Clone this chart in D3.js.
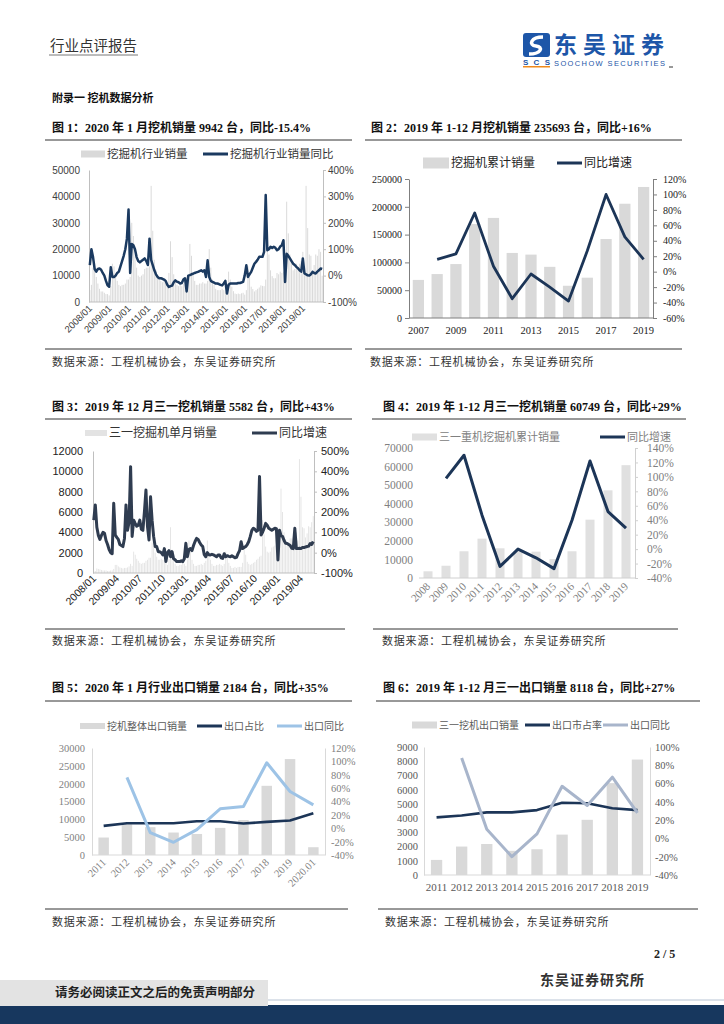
<!DOCTYPE html>
<html>
<head>
<meta charset="utf-8">
<script src="https://cdn.jsdelivr.net/npm/d3@7"></script>
<style>
body{margin:0;background:#fff;}
svg{display:block;}
</style>
</head>
<body>
<svg id="page" width="724" height="1024"></svg>
<script>
// ---- data ----
// 图1 monthly industry sales 2008/01 - 2020/01, yoy %
var sales1 = [
 4500, 6500, 13000, 12000, 9500, 7000, 5000, 4000, 4000, 3500, 3000, 3000,
 2500, 6000, 14500, 13500, 10500, 8000, 6500, 6000, 6500, 6500, 7000, 8500,
 8500, 9500, 30000, 25000, 18000, 13000, 10000, 9500, 10000, 10500, 12500, 13000,
 13000, 13500, 44000, 27000, 16000, 12000, 9000, 8500, 8000, 7500, 8000, 8000,
 6500, 11000, 23000, 17000, 10500, 8500, 6500, 6000, 6500, 6000, 7000, 6500,
 4000, 9000, 22000, 17500, 10500, 8000, 6500, 6500, 7000, 7000, 7500, 7000,
 7000, 8000, 20000, 13000, 8500, 6500, 5000, 4500, 4500, 4500, 5000, 4500,
 4000, 4500, 11500, 8500, 5800, 4100, 3200, 3000, 3200, 3000, 3300, 3500,
 2800, 4500, 13500, 9500, 5800, 4900, 4000, 4500, 5000, 5500, 6300, 6100,
 6000, 8500, 25500, 18000, 12000, 9800, 9000, 9000, 11000, 10500, 11500, 11000,
 11500, 10000, 38000, 26000, 18000, 15500, 12000, 12500, 14500, 13000, 14500, 15500,
 19000, 12000, 44000, 28000, 18000, 17500, 12000, 14000, 18000, 17500, 20000, 19000,
 9942];
var yoy1 = [
 40, 100, 70, 25, 15, 25, 27, 22, 10, 0, -20, -37,
 -42, 32, -5, -5, 0, 10, 15, 35, 55, 75, 100, 140,
 250, 10, 120, 115, 100, 70, 55, 50, 55, 60, 65, 55,
 40, 140, 60, 40, 20, 5, -5, -10, -10, -12, -15, -20,
 -35, -43, -40, -38, -25, -18, -23, -25, -30, -28, -15, -10,
 -60, 0, 2, 5, 7, 10, 12, 14, 17, 20, 15, 20,
 -5, 58, -5, -20, -24, -27, -30, -30, -32, -35, -37, -30,
 -20, -68, -35, -30, -30, -30, -30, -30, -28, -28, -26, -24,
 1, 39, -5, 5, 14, 30, 45, 52, 60, 71, 71, 71,
 90, 305, 96, 100, 109, 105, 109, 105, 96, 100, 110, 115,
 134, -24, 83, 75, 65, 55, 45, 40, 33, 28, 20, 15,
 65, 8, 5, 1, 0, 5, 14, 10, 8, 15, 20, 27,
 25];
var ticks1 = ["2008/01","2009/01","2010/01","2011/01","2012/01","2013/01","2014/01",
              "2015/01","2016/01","2017/01","2018/01","2019/01"];

// 图2 yearly cumulative sales
var years2 = ["2007","2008","2009","2010","2011","2012","2013","2014","2015","2016","2017","2018","2019"];
var sales2 = [68500, 79000, 97000, 169000, 180000, 117000, 114000, 92000, 58000, 72500, 142000, 205500, 235693];
var yoy2 = [null, 16, 23, 76, 7, -35, -3, -20, -38, 27, 100, 45, 16];
var ticks2 = ["2007","2009","2011","2013","2015","2017","2019"];

// 图3 Sany monthly sales 2008/01 - 2019/12, yoy %
var sales3 = [
 150, 200, 450, 400, 350, 300, 250, 250, 250, 200, 200, 250,
 250, 400, 800, 800, 650, 550, 500, 450, 500, 500, 550, 650,
 900, 700, 2100, 1800, 1400, 1200, 1000, 900, 1000, 1000, 1200, 1300,
 1500, 1500, 3000, 2600, 2000, 1600, 1300, 1300, 1400, 1300, 1400, 1300,
 800, 1400, 4500, 2300, 1400, 900, 700, 700, 800, 800, 900, 900,
 700, 1300, 3200, 2400, 1300, 900, 700, 700, 800, 800, 900, 800,
 1000, 1200, 3200, 2000, 1300, 900, 700, 700, 800, 800, 900, 800,
 700, 900, 2100, 1500, 1000, 700, 500, 500, 600, 500, 600, 600,
 600, 1000, 2400, 1800, 1100, 900, 800, 900, 1000, 1100, 1300, 1400,
 1600, 1700, 5200, 3800, 2600, 2100, 2000, 2100, 2500, 2600, 2700, 2500,
 2800, 3000, 8300, 6000, 4000, 3300, 2700, 2900, 3400, 3400, 3600, 3700,
 4000, 3200, 11200, 7500, 4500, 4400, 3500, 3900, 4600, 4500, 5000, 5600];
var yoy3 = [
 160, 235, 125, 85, 65, 85, 100, 95, 60, 40, 15, 0,
 -5, 243, 87, 75, 65, 40, 35, 30, 70, 235, 110, 150,
 423, 80, 160, 144, 130, 135, 160, 115, 110, 200, 308, 128,
 62, 275, 160, 80, 30, 30, 5, 5, 0, -11, 20, -44,
 0, 10, -20, 5, -30, -35, -44, -44, -44, -40, -44, -30,
 46, -20, 15, 20, 10, 35, 55, 70, 65, 50, 38, 30,
 -10, -20, 0, -10, -11, -8, -11, -15, -20, -12, -11, -25,
 -28, -5, -20, -15, -18, -20, -15, -20, -25, -23, -5, 10,
 54, 20, 25, 30, 40, 55, 80, 110, 120, 115, 105, 110,
 374, 87, 100, 120, 144, 135, 120, 115, 110, 115, 120, 118,
 -36, 110, 85, 80, 60, 46, 45, 40, 35, 22, 20, 120,
 20, 20, 22, 20, 25, 25, 28, 30, 32, 45, 40, 55];
var ticks3 = ["2008/01","2009/04","2010/07","2011/10","2013/01","2014/04","2015/07",
              "2016/10","2018/01","2019/04"];

// 图4 Sany yearly cumulative sales
var years4 = ["2008","2009","2010","2011","2012","2013","2014","2015","2016","2017","2018","2019"];
var sales4 = [3600, 6600, 14400, 21200, 16000, 14400, 14200, 10200, 14400, 31400, 47200, 60749];
var yoy4 = [null, 98, 130, 47, -24, 0, -12, -27, 40, 122, 52, 29];

// 图5 industry exports
var years5 = ["2011","2012","2013","2014","2015","2016","2017","2018","2019","2020.01"];
var export5 = [4900, 8600, 7800, 6300, 5900, 7600, 9800, 19400, 26900, 2184];
var share5 = [3.5, 7.5, 7.5, 7.5, 10.5, 10.5, 7, 9.5, 11.5, 22.5];
var expYoy5 = [null, 76, -6.5, -21, -2, 29, 32.5, 98, 55, 35];

// 图6 Sany exports
var years6 = ["2011","2012","2013","2014","2015","2016","2017","2018","2019"];
var export6 = [1060, 2000, 2180, 1700, 1810, 2840, 3880, 6460, 8118];
var share6 = [23, 25, 28.5, 28.5, 31, 39, 38.5, 33, 31];
var expYoy6 = [null, 88, 10, -20, 5, 57, 36, 67, 28];

// ---- helpers ----
var SERIF = "'Liberation Serif','Noto Sans CJK SC',serif";
var SANS = "'Liberation Sans','Noto Sans CJK SC',sans-serif";
var CJK = "'Noto Sans CJK SC',sans-serif";
var NAVY = "#1c3557";

var svg = d3.select("#page");

function monthCats(y, m, n){
	var out = [];
	for(var i = 0; i < n; i++){
		out.push(y + "/" + (m < 10 ? "0" + m : m));
		m++;
		if(m > 12){ m = 1; y++; }
	}
	return out;
}

function combo(o){
	var g = svg.append("g");
	var x = d3.scaleBand().domain(o.cats).range([o.left, o.right]);
	var yL = d3.scaleLinear().domain(o.yL).range([o.bottom, o.top]);
	var yR = d3.scaleLinear().domain(o.yR).range([o.bottom, o.top]);
	var bw = x.bandwidth() * o.barW;

	// bars
	g.append("g").selectAll("rect").data(o.bars).join("rect")
		.attr("x", function(d, i){ return x(o.cats[i]) + (x.bandwidth() - bw) / 2; })
		.attr("y", function(d){ return yL(d); })
		.attr("width", bw)
		.attr("height", function(d){ return o.bottom - yL(d); })
		.attr("fill", o.barColor);

	// left axis
	var aL = g.append("g").attr("transform", "translate(" + o.left + ",0)")
		.call(d3.axisLeft(yL).tickValues(o.lTicks).tickSize(o.lTick).tickSizeOuter(0)
			.tickPadding(o.lPad).tickFormat(d3.format("d")));
	// right axis
	var aR = g.append("g").attr("transform", "translate(" + o.right + ",0)")
		.call(d3.axisRight(yR).tickValues(o.rTicks).tickSize(o.rTick).tickSizeOuter(0)
			.tickPadding(o.rPad).tickFormat(function(d){ return d + "%"; }));
	[aL, aR].forEach(function(a, k){
		a.select(".domain").attr("stroke", (k == 0 && o.noLeftLine) ? "none" : o.axisColor);
		a.selectAll(".tick line").attr("stroke", o.axisColor);
		a.selectAll(".tick text").attr("fill", o.textColor)
			.style("font-family", o.tickFont).style("font-size", o.tickSize + "px");
	});

	// bottom axis line
	g.append("line").attr("x1", o.left).attr("x2", o.right)
		.attr("y1", o.bottom).attr("y2", o.bottom).attr("stroke", o.axisColor);

	// x labels
	g.append("g").selectAll("text").data(o.xTicks).join("text")
		.attr("transform", function(d){
			var cx = x(d) + x.bandwidth() / 2;
			return o.rot ? "translate(" + (cx + 3) + "," + (o.bottom + o.xOff) + ") rotate(-45)"
			             : "translate(" + cx + "," + (o.bottom + o.xOff) + ")";
		})
		.attr("text-anchor", o.rot ? "end" : "middle")
		.attr("fill", o.textColor)
		.style("font-family", o.tickFont).style("font-size", o.xSize + "px")
		.text(function(d){ return d; });

	// lines
	o.lines.forEach(function(s){
		var line = d3.line()
			.defined(function(d){ return d !== null; })
			.x(function(d, i){ return x(o.cats[i]) + x.bandwidth() / 2; })
			.y(function(d){ return yR(d); });
		g.append("path").datum(s.values)
			.attr("fill", "none").attr("stroke", s.color).attr("stroke-width", s.width)
			.attr("stroke-linejoin", "round").attr("d", line);
	});

	// legend
	o.legend.forEach(function(l){
		if(l.kind == "rect"){
			g.append("rect").attr("x", l.x).attr("y", o.legY - l.h / 2)
				.attr("width", l.w).attr("height", l.h).attr("fill", l.color);
		}else{
			g.append("line").attr("x1", l.x).attr("x2", l.x + l.w)
				.attr("y1", o.legY).attr("y2", o.legY)
				.attr("stroke", l.color).attr("stroke-width", 3);
		}
		g.append("text").attr("x", l.x + l.w + 2).attr("y", o.legY)
			.attr("dy", "0.36em").attr("fill", o.legColor)
			.style("font-family", CJK).style("font-size", o.legSize + "px")
			.text(l.label);
	});
}

function pageText(x, y, str, size, weight, color, font){
	return svg.append("text").attr("x", x).attr("y", y)
		.attr("fill", color || "#222").attr("font-weight", weight || "normal")
		.style("font-family", font || CJK).style("font-size", size + "px")
		.text(str);
}
function rule(x1, x2, y, color, w){
	svg.append("line").attr("x1", x1).attr("x2", x2).attr("y1", y).attr("y2", y)
		.attr("stroke", color || "#333").attr("stroke-width", w || 1);
}

// ---- page header ----
pageText(50, 51, "行业点评报告", 14.5, "normal", "#333");
rule(49, 138, 55, "#555", 0.8);

// logo
svg.append("rect").attr("x", 523).attr("y", 33).attr("width", 27).attr("height", 24).attr("rx", 3).attr("fill", "#1d56a8");
svg.append("path").attr("d", "M543,37 C531,37 528,45 536,46 C544,47 541,54 529,54")
	.attr("fill", "none").attr("stroke", "#fff").attr("stroke-width", 3.5);
pageText(523, 65, "SCS", 8, "bold", "#1d56a8", SANS).attr("textLength", 27);
svg.append("rect").attr("x", 523).attr("y", 66).attr("width", 27).attr("height", 1.5).attr("fill", "#f08a1c");
pageText(554, 53, "东吴证券", 23, "bold", "#1d56a8").attr("textLength", 110);
pageText(554, 65.5, "SOOCHOW SECURITIES", 7.5, "normal", "#1d56a8", SANS).attr("textLength", 111);
rule(669, 673, 67, "#333", 1);

pageText(52, 102, "附录一 挖机数据分析", 11, "bold", "#111");

// ---- figure titles & sources ----
var TITLE_FONT = SERIF;
pageText(52, 132, "图 1：2020 年 1 月挖机销量 9942 台，同比-15.4%", 12, "bold", "#111", TITLE_FONT);
pageText(371, 132, "图 2：2019 年 1-12 月挖机销量 235693 台，同比+16%", 12, "bold", "#111", TITLE_FONT);
pageText(52, 411, "图 3：2019 年 12 月三一挖机销量 5582 台，同比+43%", 12, "bold", "#111", TITLE_FONT);
pageText(383, 411, "图 4：2019 年 1-12 月三一挖机销量 60749 台，同比+29%", 12, "bold", "#111", TITLE_FONT);
pageText(52, 692, "图 5：2020 年 1 月行业出口销量 2184 台，同比+35%", 12, "bold", "#111", TITLE_FONT);
pageText(383, 692, "图 6：2019 年 1-12 月三一出口销量 8118 台，同比+27%", 12, "bold", "#111", TITLE_FONT);
rule(45, 352, 140); rule(365, 682, 140);
rule(45, 352, 419); rule(372, 686, 419);
rule(45, 352, 701); rule(376, 700, 701);

var SRC = "数据来源：工程机械协会，东吴证券研究所";
rule(45, 352, 349); rule(365, 682, 349);
rule(45, 345, 629); rule(373, 678, 629);
rule(45, 348, 909); rule(378, 698, 909);
[[52, 366], [370, 366], [52, 645], [382, 645], [52, 926], [385, 926]].forEach(function(p){
	pageText(p[0], p[1], SRC, 11, "normal", "#333").style("letter-spacing", "0.8px");
});

// ---- charts ----
combo({
	cats: monthCats(2008, 1, sales1.length), bars: sales1,
	left: 89, right: 323, top: 170, bottom: 302,
	yL: [0, 50000], lTicks: d3.range(0, 50001, 10000), lTick: 0, lPad: 9,
	yR: [-100, 400], rTicks: d3.range(-100, 401, 100), rTick: 3, rPad: 2,
	barW: 0.6, barColor: "#d9d9d9", axisColor: "#bfbfbf", textColor: "#404040",
	tickFont: SANS, tickSize: 10, xTicks: ticks1, rot: true, xOff: 7, xSize: 9.5,
	lines: [{values: yoy1, color: "#1b3a60", width: 2.5}],
	legY: 154, legSize: 11.5, legColor: "#333",
	legend: [{kind: "rect", x: 81, w: 24, h: 7, color: "#d9d9d9", label: "挖掘机行业销量"},
	         {kind: "line", x: 203, w: 25, color: "#1b3a60", label: "挖掘机行业销量同比"}]
});

combo({
	cats: years2, bars: sales2,
	left: 409, right: 653, top: 179, bottom: 318,
	yL: [0, 250000], lTicks: d3.range(0, 250001, 50000), lTick: 4, lPad: 3,
	yR: [-60, 120], rTicks: d3.range(-60, 121, 20), rTick: 4, rPad: 6,
	barW: 0.6, barColor: "#d9d9d9", axisColor: "#7f7f7f", textColor: "#222",
	tickFont: SERIF, tickSize: 10, xTicks: ticks2, rot: false, xOff: 16, xSize: 10.5,
	lines: [{values: yoy2, color: NAVY, width: 2.8}],
	legY: 163, legSize: 12, legColor: "#222",
	legend: [{kind: "rect", x: 423, w: 26, h: 11, color: "#d9d9d9", label: "挖掘机累计销量"},
	         {kind: "line", x: 557, w: 25, color: NAVY, label: "同比增速"}]
});

combo({
	cats: monthCats(2008, 1, sales3.length), bars: sales3,
	left: 93, right: 314, top: 451, bottom: 573,
	yL: [0, 12000], lTicks: d3.range(0, 12001, 2000), lTick: 0, lPad: 10,
	yR: [-100, 500], rTicks: d3.range(-100, 501, 100), rTick: 3, rPad: 4,
	barW: 0.6, barColor: "#e3e3e3", axisColor: "#bfbfbf", textColor: "#222",
	tickFont: SANS, tickSize: 11, xTicks: ticks3, rot: true, xOff: 6, xSize: 10.5,
	lines: [{values: yoy3, color: "#2f3c50", width: 3}],
	legY: 433, legSize: 12, legColor: "#333",
	legend: [{kind: "rect", x: 85, w: 22, h: 6, color: "#e3e3e3", label: "三一挖掘机单月销量"},
	         {kind: "line", x: 252, w: 25, color: "#2f3c50", label: "同比增速"}]
});

combo({
	cats: years4, bars: sales4,
	left: 419, right: 635, top: 448, bottom: 578,
	yL: [0, 70000], lTicks: d3.range(0, 70001, 10000), lTick: 0, lPad: 6, noLeftLine: true,
	yR: [-40, 140], rTicks: d3.range(-40, 141, 20), rTick: 3, rPad: 9,
	barW: 0.5, barColor: "#e0e0e0", axisColor: "#d0d0d0", textColor: "#808080",
	tickFont: SERIF, tickSize: 11.5, xTicks: years4, rot: true, xOff: 9, xSize: 11,
	lines: [{values: yoy4, color: NAVY, width: 3}],
	legY: 437, legSize: 11, legColor: "#808080",
	legend: [{kind: "rect", x: 412, w: 25, h: 7, color: "#e0e0e0", label: "三一重机挖掘机累计销量"},
	         {kind: "line", x: 600, w: 25, color: NAVY, label: "同比增速"}]
});

combo({
	cats: years5, bars: export5,
	left: 92, right: 325, top: 748, bottom: 855,
	yL: [0, 30000], lTicks: d3.range(0, 30001, 5000), lTick: 0, lPad: 7,
	yR: [-40, 120], rTicks: d3.range(-40, 121, 20), rTick: 0, rPad: 6,
	barW: 0.45, barColor: "#d9d9d9", axisColor: "#d9d9d9", textColor: "#7f7f7f",
	tickFont: SERIF, tickSize: 10.5, xTicks: years5, rot: true, xOff: 8, xSize: 10.5,
	lines: [{values: share5, color: NAVY, width: 2.6},
	        {values: expYoy5, color: "#9dc3e6", width: 3}],
	legY: 726, legSize: 10, legColor: "#595959",
	legend: [{kind: "rect", x: 80, w: 25, h: 6, color: "#d9d9d9", label: "挖机整体出口销量"},
	         {kind: "line", x: 197, w: 25, color: NAVY, label: "出口占比"},
	         {kind: "line", x: 277, w: 25, color: "#9dc3e6", label: "出口同比"}]
});

combo({
	cats: years6, bars: export6,
	left: 424, right: 650, top: 747, bottom: 875,
	yL: [0, 9000], lTicks: d3.range(0, 9001, 1000), lTick: 0, lPad: 6,
	yR: [-40, 100], rTicks: d3.range(-40, 101, 20), rTick: 0, rPad: 5,
	barW: 0.45, barColor: "#d9d9d9", axisColor: "#d9d9d9", textColor: "#595959",
	tickFont: SERIF, tickSize: 10.5, xTicks: years6, rot: false, xOff: 16, xSize: 11,
	lines: [{values: share6, color: NAVY, width: 2.6},
	        {values: expYoy6, color: "#a8b5cb", width: 3}],
	legY: 725, legSize: 10, legColor: "#595959",
	legend: [{kind: "rect", x: 412, w: 25, h: 7, color: "#d9d9d9", label: "三一挖机出口销量"},
	         {kind: "line", x: 525, w: 25, color: NAVY, label: "出口市占率"},
	         {kind: "line", x: 603, w: 25, color: "#a8b5cb", label: "出口同比"}]
});

// ---- footer ----
pageText(654, 958, "2 / 5", 12, "bold", "#222", SERIF);
pageText(540, 985, "东吴证券研究所", 14, "bold", "#333").style("letter-spacing", "1px");
svg.append("rect").attr("x", 0).attr("y", 1005).attr("width", 724).attr("height", 19).attr("fill", "#17375e");
svg.append("line").attr("x1", 268).attr("x2", 724).attr("y1", 1000).attr("y2", 1000).attr("stroke", "#b8c4d4");
svg.append("rect").attr("x", 0).attr("y", 980).attr("width", 268).attr("height", 26).attr("fill", "#e3e3e3");
pageText(55, 997, "请务必阅读正文之后的免责声明部分", 12.5, "bold", "#222");
</script>
</body>
</html>
